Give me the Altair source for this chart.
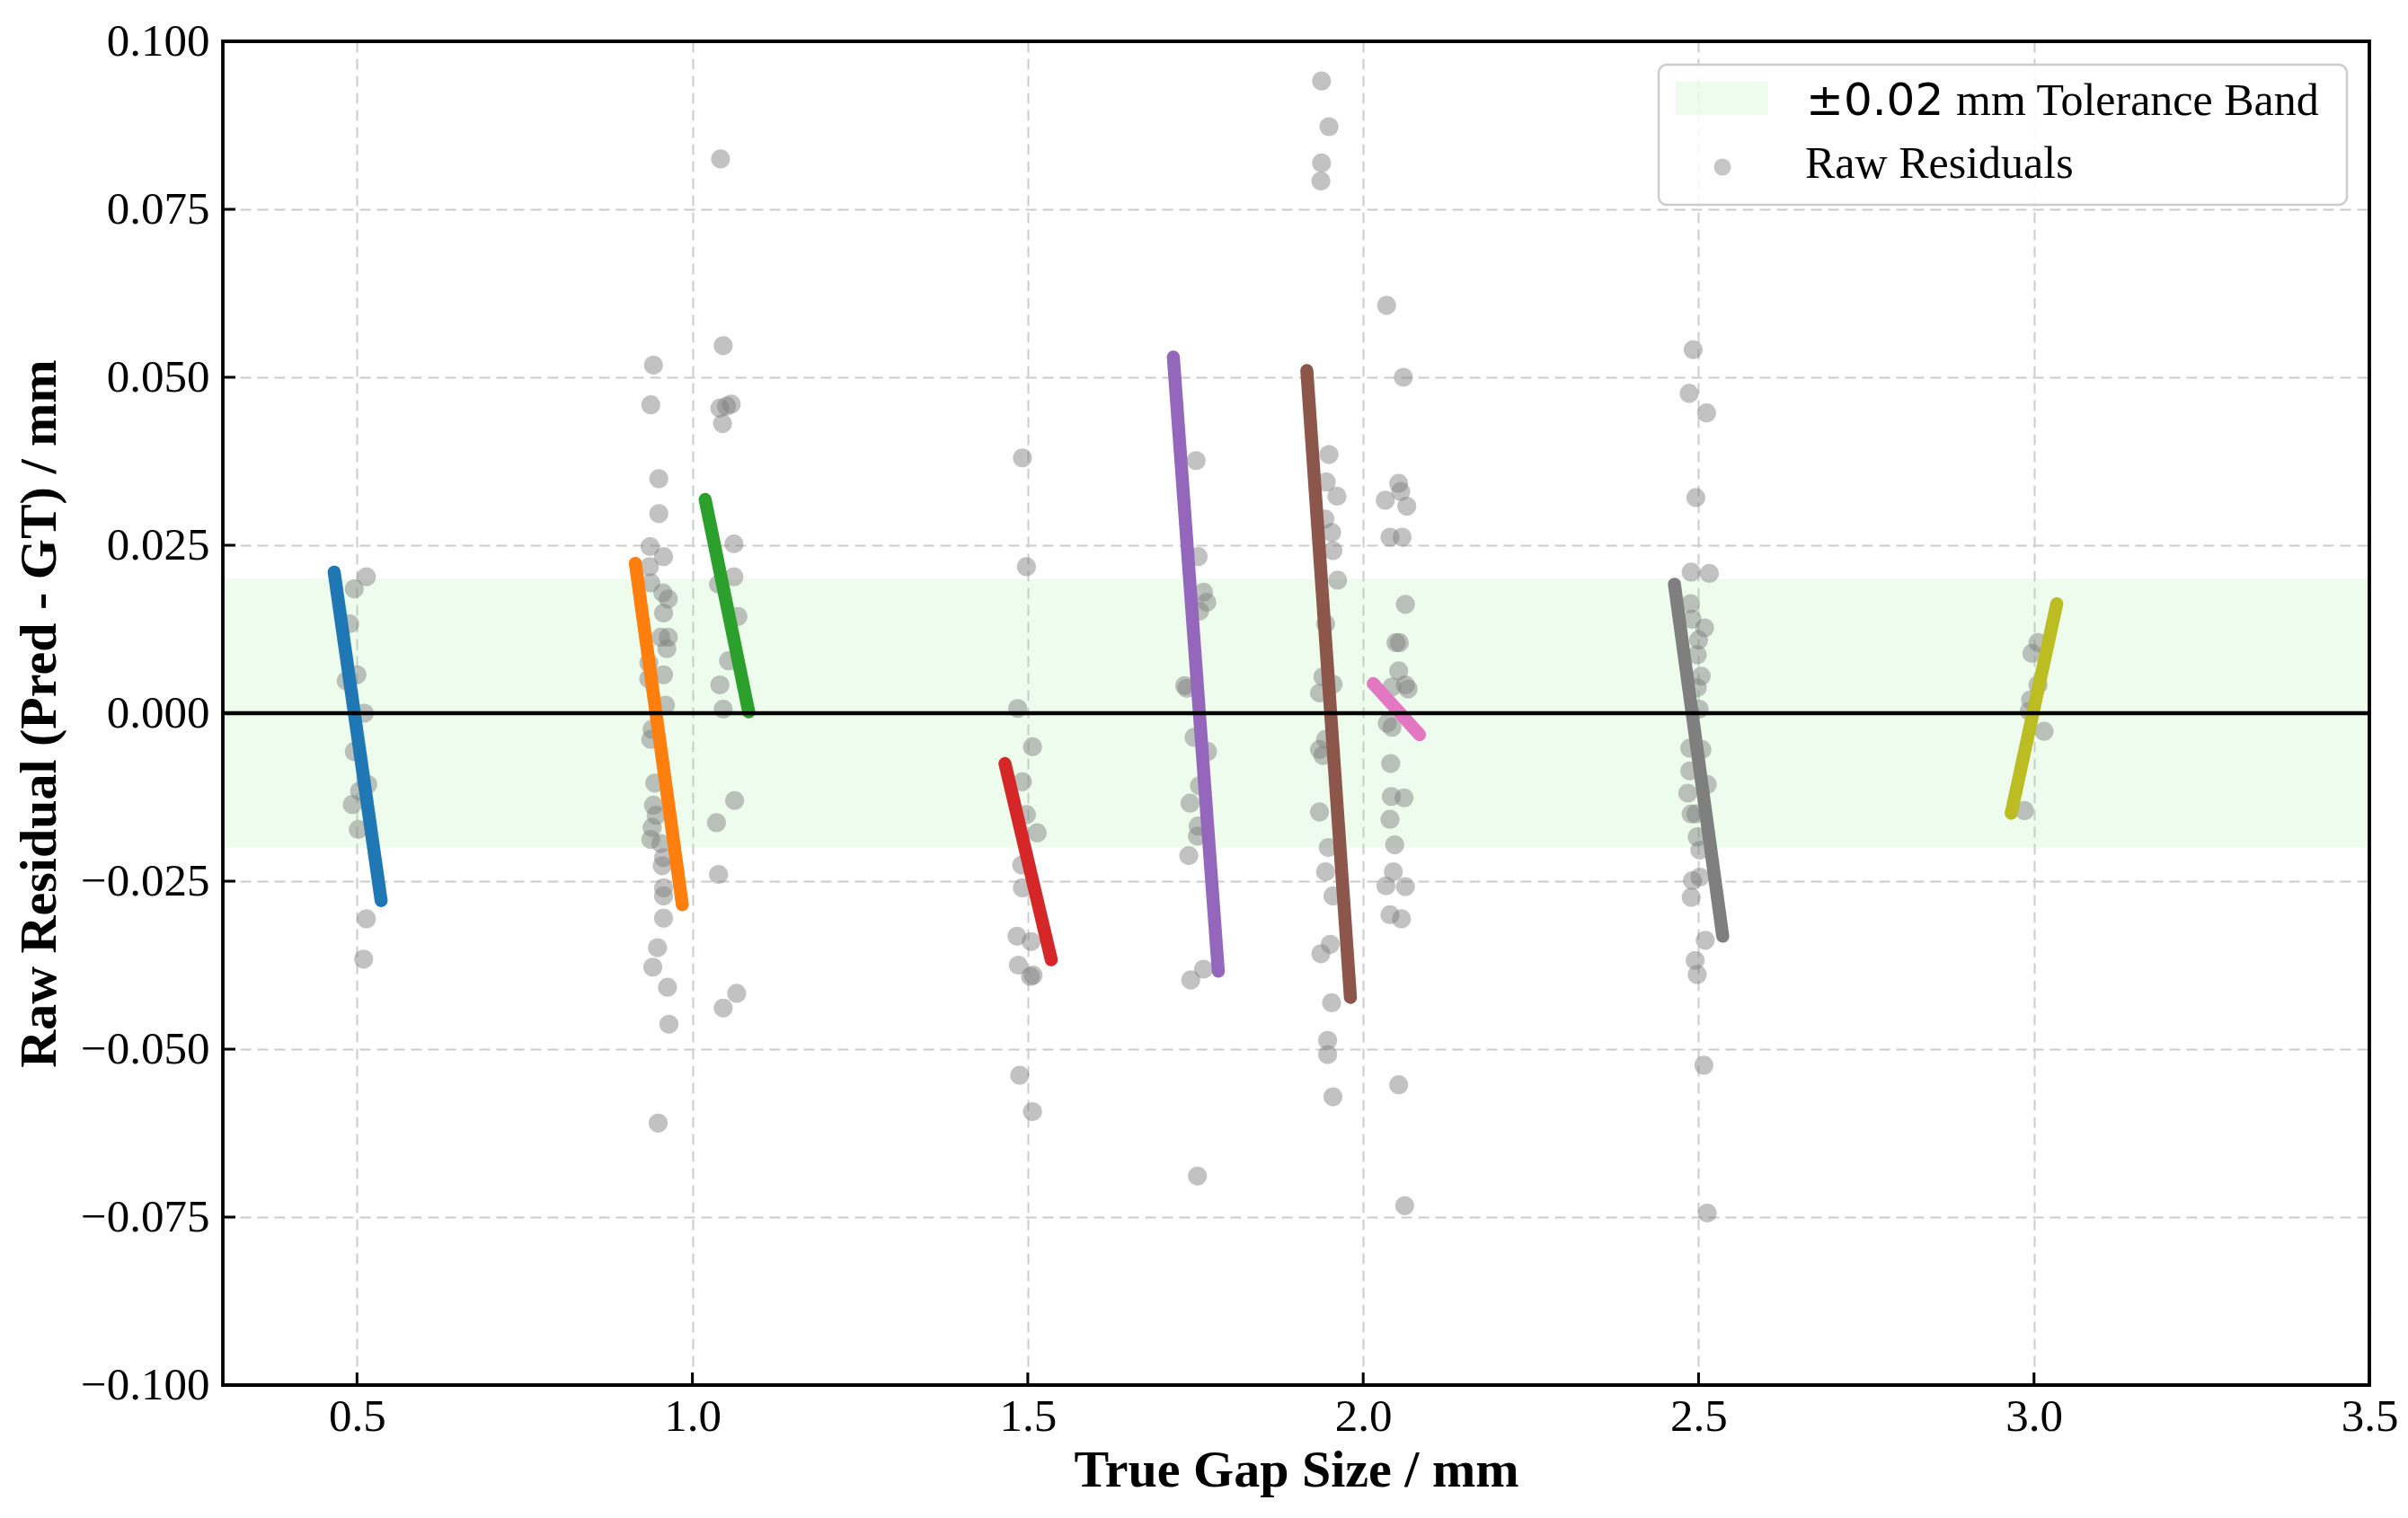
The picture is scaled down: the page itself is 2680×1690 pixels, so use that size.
import altair as alt
import pandas as pd

W, H = 2389, 1496

# ---------------- data ----------------
groups = ["0.5", "0.95", "1.05", "1.5", "1.75", "1.95", "2.05", "2.5", "3.0"]
colors = ["#1f77b4", "#ff7f0e", "#2ca02c", "#d62728", "#9467bd",
          "#8c564b", "#e377c2", "#7f7f7f", "#bcbd22"]

# fitted trend segments (start / end) per group
line_x0 = [0.466, 0.915, 1.019, 1.466, 1.717, 1.916, 2.015, 2.464, 3.034]
line_y0 = [0.0210, 0.0223, 0.0318, -0.0075, 0.0530, 0.0510, 0.0044, 0.0192, 0.0163]
line_x1 = [0.536, 0.985, 1.084, 1.535, 1.784, 1.981, 2.084, 2.536, 2.966]
line_y1 = [-0.0279, -0.0285, 0.0002, -0.0367, -0.0384, -0.0423, -0.0032, -0.0332, -0.0149]

# raw residual points
px_05 = [0.514, 0.496, 0.489, 0.500, 0.484, 0.511, 0.496, 0.516, 0.504, 0.493, 0.502, 0.514, 0.510]
py_05 = [0.0203, 0.0185, 0.0133, 0.0057, 0.0048, 0.0000, -0.0057, -0.0106, -0.0116, -0.0136, -0.0173, -0.0306, -0.0366]

px_095 = [0.942, 0.938, 0.950, 0.950, 0.937, 0.957, 0.936, 0.938, 0.956, 0.964, 0.957, 0.953,
          0.964, 0.962, 0.935, 0.957, 0.935, 0.960, 0.940, 0.938, 0.944, 0.942, 0.946, 0.940,
          0.938, 0.953, 0.957, 0.955, 0.957, 0.957, 0.957, 0.948, 0.941, 0.963, 0.965, 0.949]
py_095 = [0.0518, 0.0459, 0.0349, 0.0297, 0.0248, 0.0233, 0.0218, 0.0194, 0.0179, 0.0170, 0.0149, 0.0113,
          0.0113, 0.0096, 0.0075, 0.0057, 0.0051, 0.0012, -0.0024, -0.0039, -0.0104, -0.0137, -0.0152, -0.0170,
          -0.0188, -0.0194, -0.0215, -0.0227, -0.0260, -0.0272, -0.0305, -0.0349, -0.0378, -0.0408, -0.0463, -0.0610]

px_105 = [1.042, 1.046, 1.041, 1.058, 1.051, 1.045, 1.062, 1.062, 1.039, 1.068, 1.054, 1.041,
          1.046, 1.063, 1.036, 1.039, 1.066, 1.046]
py_105 = [0.0825, 0.0547, 0.0454, 0.0460, 0.0457, 0.0431, 0.0252, 0.0203, 0.0192, 0.0144, 0.0078, 0.0042,
          0.0006, -0.0130, -0.0163, -0.0240, -0.0417, -0.0439]

px_15 = [1.492, 1.498, 1.485, 1.507, 1.492, 1.498, 1.514, 1.491, 1.492, 1.484, 1.505, 1.486,
         1.508, 1.504, 1.488, 1.507]
py_15 = [0.0380, 0.0218, 0.0007, -0.0050, -0.0102, -0.0151, -0.0178, -0.0226, -0.0260, -0.0332, -0.0340, -0.0375,
         -0.0390, -0.0392, -0.0539, -0.0593]

px_175 = [1.751, 1.754, 1.762, 1.767, 1.756, 1.734, 1.737, 1.748, 1.768, 1.756, 1.742, 1.754,
          1.753, 1.740, 1.762, 1.743, 1.753]
py_175 = [0.0376, 0.0233, 0.0180, 0.0165, 0.0152, 0.0041, 0.0037, -0.0036, -0.0057, -0.0108, -0.0134, -0.0168,
          -0.0183, -0.0212, -0.0381, -0.0397, -0.0689]

px_195 = [1.938, 1.949, 1.938, 1.937, 1.949, 1.945, 1.961, 1.943, 1.953, 1.955, 1.962, 1.944,
          1.940, 1.955, 1.935, 1.944, 1.935, 1.940, 1.935, 1.948, 1.944, 1.955, 1.951, 1.937,
          1.953, 1.947, 1.947, 1.955]
py_195 = [0.0941, 0.0873, 0.0819, 0.0792, 0.0385, 0.0344, 0.0323, 0.0289, 0.0269, 0.0242, 0.0198, 0.0133,
          0.0054, 0.0043, 0.0030, -0.0039, -0.0054, -0.0063, -0.0147, -0.0200, -0.0236, -0.0272, -0.0344, -0.0358,
          -0.0431, -0.0487, -0.0508, -0.0571]

px_205 = [2.035, 2.060, 2.053, 2.056, 2.033, 2.065, 2.040, 2.058, 2.063, 2.049, 2.054, 2.053,
          2.043, 2.063, 2.067, 2.036, 2.043, 2.041, 2.042, 2.061, 2.040, 2.047, 2.045, 2.034,
          2.063, 2.040, 2.057, 2.053, 2.062]
py_205 = [0.0607, 0.0500, 0.0342, 0.0330, 0.0317, 0.0308, 0.0262, 0.0262, 0.0162, 0.0105, 0.0105, 0.0063,
          0.0039, 0.0042, 0.0036, -0.0015, -0.0021, -0.0075, -0.0124, -0.0126, -0.0158, -0.0196, -0.0236, -0.0257,
          -0.0258, -0.0300, -0.0306, -0.0553, -0.0733]

px_25 = [2.492, 2.486, 2.512, 2.496, 2.489, 2.516, 2.488, 2.490, 2.509, 2.500, 2.498, 2.504,
         2.498, 2.501, 2.487, 2.505, 2.487, 2.513, 2.484, 2.489, 2.496, 2.498, 2.502, 2.491,
         2.502, 2.489, 2.510, 2.495, 2.498, 2.508, 2.513]
py_25 = [0.0541, 0.0476, 0.0447, 0.0321, 0.0210, 0.0208, 0.0163, 0.0140, 0.0127, 0.0109, 0.0087, 0.0055,
         0.0038, 0.0006, -0.0052, -0.0054, -0.0086, -0.0106, -0.0119, -0.0150, -0.0150, -0.0184, -0.0204, -0.0249,
         -0.0244, -0.0274, -0.0338, -0.0368, -0.0389, -0.0524, -0.0744]

px_30 = [3.006, 2.997, 3.006, 2.995, 2.993, 3.015, 2.986]
py_30 = [0.0105, 0.0089, 0.0042, 0.0020, 0.0003, -0.0027, -0.0145]

x_ticks = [0.5, 1.0, 1.5, 2.0, 2.5, 3.0, 3.5]
y_ticks = [-0.1, -0.075, -0.05, -0.025, 0.0, 0.025, 0.05, 0.075, 0.1]
tol = 0.02

# ---------------- tables ----------------
pts = pd.DataFrame({
    "x": px_05 + px_095 + px_105 + px_15 + px_175 + px_195 + px_205 + px_25 + px_30,
    "y": py_05 + py_095 + py_105 + py_15 + py_175 + py_195 + py_205 + py_25 + py_30,
})
lines = pd.DataFrame({
    "group": groups + groups,
    "order": [0] * len(groups) + [1] * len(groups),
    "x": line_x0 + line_x1,
    "y": line_y0 + line_y1,
})

SERIF = "Liberation Serif"
XT = "True Gap Size / mm"
YT = "Raw Residual (Pred - GT) / mm"

xsc = alt.Scale(domain=[0.3, 3.5], nice=False, zero=False)
ysc = alt.Scale(domain=[-0.1, 0.1], nice=False, zero=False)

xaxis = alt.Axis(values=x_ticks, format=".1f", ticks=False, tickSize=0, domain=False,
                 labelPadding=10, titleX=W / 2, titleY=66, labelFlush=False)
yaxis = alt.Axis(values=y_ticks, ticks=False, tickSize=0, domain=False, labelPadding=15,
                 labelExpr="replace(format(datum.value, '.3f'), '-', '\u2212')",
                 titleX=-175, titleY=H / 2, labelFlush=False)


def X(f):
    return alt.X(f, type="quantitative", scale=xsc, axis=xaxis, title=XT)


def Y(f):
    return alt.Y(f, type="quantitative", scale=ysc, axis=yaxis, title=YT)


band = alt.Chart(pd.DataFrame({"y": [-tol], "y2": [tol]})).mark_rect(
    fill="#90ee90", opacity=0.16
).encode(y=Y("y"), y2="y2:Q", x=alt.value(0), x2=alt.value(W))

zero = alt.Chart(pd.DataFrame({"y": [0.0]})).mark_rule(
    color="black", strokeWidth=4.5
).encode(y=Y("y"), x=alt.value(0), x2=alt.value(W))

points = alt.Chart(pts).mark_circle(size=450, color="#808080", opacity=0.48).encode(
    x=X("x"), y=Y("y")
)

trend = alt.Chart(lines).mark_line(strokeWidth=14.5, strokeCap="round").encode(
    x=X("x"), y=Y("y"),
    color=alt.Color("group:N", scale=alt.Scale(domain=groups, range=colors), legend=None),
    detail="group:N",
    order="order:Q",
)

xtick = alt.Chart(pd.DataFrame({"x": x_ticks})).mark_rule(color="black", strokeWidth=3).encode(
    x=X("x"), y=alt.value(H), y2=alt.value(H - 14)
)
ytick = alt.Chart(pd.DataFrame({"y": y_ticks})).mark_rule(color="black", strokeWidth=3).encode(
    y=Y("y"), x=alt.value(0), x2=alt.value(14)
)

one = pd.DataFrame({"k": [0]})
frame = alt.Chart(one).mark_rect(
    fillOpacity=0, fill="white", stroke="black", strokeWidth=3.8
).encode(x=alt.value(0), x2=alt.value(W), y=alt.value(0), y2=alt.value(H))

# ---------------- legend (drawn by hand to allow mixed fonts) ----------------
leg_box = alt.Chart(one).mark_rect(
    fill="white", fillOpacity=0.85, stroke="#cccccc", strokeWidth=2.5, cornerRadius=9
).encode(x=alt.value(1598), x2=alt.value(2364), y=alt.value(26), y2=alt.value(182))
leg_swatch = alt.Chart(one).mark_rect(fill="#90ee90", opacity=0.16).encode(
    x=alt.value(1617), x2=alt.value(1720), y=alt.value(45), y2=alt.value(82)
)
leg_dot = alt.Chart(one).mark_circle(size=360, color="#808080", opacity=0.45).encode(
    x=alt.value(1669), y=alt.value(140)
)
leg_t1 = alt.Chart(one).mark_text(
    font="DejaVu Sans", fontSize=50, align="left", baseline="alphabetic", color="black"
).encode(x=alt.value(1762), y=alt.value(82), text=alt.value("\u00b10.02"))
leg_t2 = alt.Chart(one).mark_text(
    font=SERIF, fontSize=50, align="left", baseline="alphabetic", color="black"
).encode(x=alt.value(1929), y=alt.value(82), text=alt.value("mm Tolerance Band"))
leg_t3 = alt.Chart(one).mark_text(
    font=SERIF, fontSize=50, align="left", baseline="alphabetic", color="black"
).encode(x=alt.value(1761), y=alt.value(152), text=alt.value("Raw Residuals"))

chart = alt.layer(
    band, points, trend, zero, xtick, ytick, frame,
    leg_box, leg_swatch, leg_dot, leg_t1, leg_t2, leg_t3,
).properties(
    width=W, height=H,
    autosize=alt.AutoSizeParams(type="none"),
    padding={"left": 240, "top": 38, "right": 35, "bottom": 140},
).configure_view(
    stroke="transparent", strokeWidth=0
).configure_axis(
    labelFont=SERIF, labelFontSize=51, labelColor="black",
    titleFont=SERIF, titleFontSize=58, titleFontWeight="bold", titleColor="black",
    grid=True, gridColor="#cccccc", gridWidth=2, gridDash=[12, 7],
)

chart.save("out.html", embed_options={"renderer": "svg", "actions": False})
